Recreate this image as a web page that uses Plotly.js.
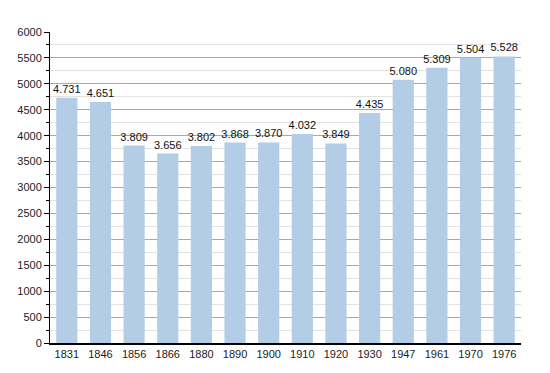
<!DOCTYPE html>
<html><head><meta charset="utf-8">
<script src="https://cdn.plot.ly/plotly-3.0.1.min.js"></script>
<style>html,body{margin:0;padding:0;background:#fff}#c{width:550px;height:373px}</style>
</head><body><div id="c"></div>
<script>
const years = ["1831","1846","1856","1866","1880","1890","1900","1910","1920","1930","1947","1961","1970","1976"];
const population = [4731,4651,3809,3656,3802,3868,3870,4032,3849,4435,5080,5309,5504,5528];
const labels = ["4.731","4.651","3.809","3.656","3.802","3.868","3.870","4.032","3.849","4.435","5.080","5.309","5.504","5.528"];

Plotly.newPlot('c', [{
  type: 'bar', x: years, y: population, text: labels,
  textposition: 'outside', cliponaxis: false, constraintext: 'none',
  textfont: {family: 'Liberation Sans, Arial, sans-serif', size: 11, color: '#111'},
  marker: {color: '#b3cde7', line: {width: 0}},
  hoverinfo: 'none'
}], {
  width: 550, height: 373,
  margin: {l: 50, r: 29, t: 32, b: 30},
  bargap: 0.37,
  paper_bgcolor: '#fff', plot_bgcolor: '#fff',
  font: {family: 'Liberation Sans, Arial, sans-serif', size: 11, color: '#222'},
  showlegend: false,
  xaxis: {type: 'category', showline: true, linecolor: '#000', linewidth: 1.5,
          ticks: '', showgrid: false, tickfont: {size: 11}},
  yaxis: {range: [0, 6000], dtick: 500, showline: true, linecolor: '#000', linewidth: 1,
          ticks: 'outside', ticklen: 5, tickcolor: '#000', gridcolor: '#a8a8a8', gridwidth: 1,
          zeroline: false, tickfont: {size: 11},
          minor: {dtick: 250, showgrid: true, gridcolor: '#e2e2e2', ticks: 'outside', ticklen: 3, tickcolor: '#000'}}
}, {staticPlot: true});
</script></body></html>
